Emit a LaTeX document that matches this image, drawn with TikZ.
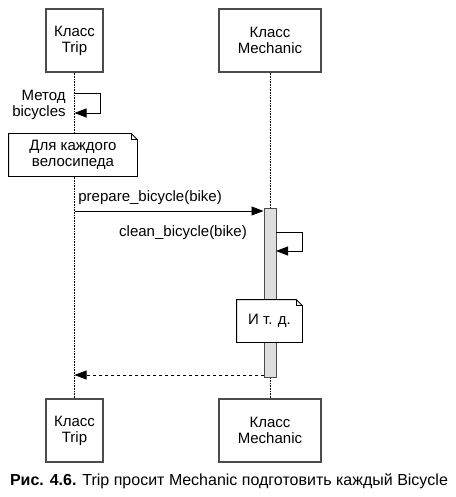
\documentclass[tikz,border=0pt]{standalone}
\usepackage{fontspec}
\setmainfont{Liberation Sans}
\usetikzlibrary{arrows.meta}
\newcommand\foldcorner[1]{
  \draw [line width=0.8pt] (#1.north west) -- ([xshift=-6pt]#1.north east) --
    ([yshift=-6pt]#1.north east) -- (#1.south east) -- (#1.south west) -- cycle;
  \draw [line width=0.8pt] ([xshift=-6pt]#1.north east) -- ([xshift=-6pt,yshift=-6pt]#1.north east) --
    ([yshift=-6pt]#1.north east);
}

\begin{document}
\begin{tikzpicture}[x=1pt,y=-1pt,line width=0.8pt,
  classbox/.style={draw=black!70, line width=1.2pt, minimum height=63pt, align=center,
    font=\fontsize{15}{16}\selectfont},
  notebox/.style={fill=white, inner sep=0pt, align=center, font=\fontsize{15}{16}\selectfont},
  msg/.style={-{Triangle[length=12pt,width=9pt]}},
  lifeline/.style={densely dotted, line width=0.6pt},
  lbl/.style={font=\fontsize{15}{16}\selectfont, inner sep=0pt}]
\useasboundingbox (0,0) rectangle (455,497);

% Class boxes, top and bottom
\node[classbox, minimum width=57pt] (trip) at (74.5,40.5) {Класс\\Trip};
\node[classbox, minimum width=102pt] (mech) at (270,40.5) {Класс\\Mechanic};
\node[classbox, minimum width=57pt] (tripend) at (74.5,430.5) {Класс\\Trip};
\node[classbox, minimum width=102pt] (mechend) at (270,430.5) {Класс\\Mechanic};

% Lifelines
\draw [lifeline] (trip.south) -- (tripend.north);
\draw [lifeline] (mech.south) -- (mechend.north);

% Activation of Mechanic
\node[draw=black!70, fill=black!13, line width=1pt, minimum width=12pt, minimum height=169pt,
  inner sep=0pt] (act) at (270,292.5) {};

% Method bicycles
\coordinate (selfA) at (74.5,93);
\coordinate (selfB) at (74.5,113);
\draw [msg] (selfA) -- (100,93) -- (100,113) -- (selfB);
\node[lbl, align=right, anchor=east] (selflbl) at (66,104.5) {Метод\\bicycles};

% Loop note
\node[notebox, minimum width=128pt, minimum height=42pt] (loopnote) at (73,155) {Для каждого\\велосипеда};
\foldcorner{loopnote}

% prepare_bicycle(bike)
\coordinate (prepA) at (74.5,211);
\draw [msg] (prepA) -- (prepA -| act.west);
\node[lbl, anchor=south west] (preplbl) at (78,205) {prepare\_bicycle(bike)};

% clean_bicycle(bike)
\coordinate (cleanA) at (276,232);
\coordinate (cleanB) at (276,251);
\draw [msg] (cleanA) -- (302,232) -- (302,251) -- (cleanB);
\node[lbl] (cleanlbl) at (183,233) {clean\_bicycle(bike)};

% Etc. note
\node[notebox, minimum width=65pt, minimum height=42pt] (etcnote) at (269.5,321) {И т. д.};
\foldcorner{etcnote}

% Return
\coordinate (retA) at (74.5,375);
\draw [msg, dashed, line width=0.6pt] (retA -| act.west) -- (retA);

% Caption
\node[font=\fontsize{16}{17}\selectfont] (caption) at (229,481)
  {\textbf{Рис. 4.6.} Trip просит Mechanic подготовить каждый Bicycle};
\end{tikzpicture}
\end{document}
